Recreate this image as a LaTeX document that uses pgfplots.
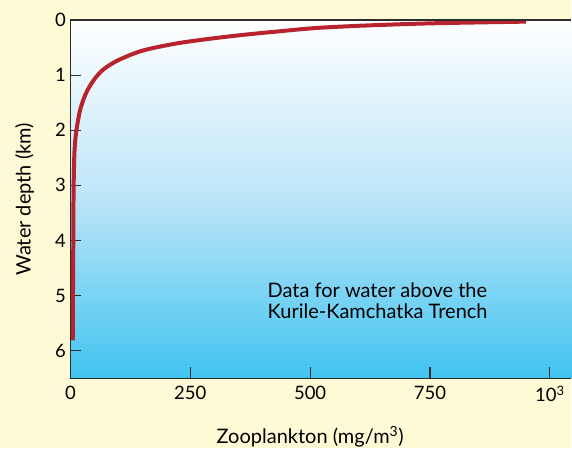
\documentclass[border=0pt]{standalone}
\usepackage{fontspec}
\setmainfont{Lato}
\usepackage{pgfplots}
\pgfplotsset{compat=1.18}
\definecolor{cream}{RGB}{255,250,214}
\definecolor{seatop}{RGB}{255,255,255}
\definecolor{seamid}{RGB}{188,229,248}
\definecolor{seabot}{RGB}{64,196,240}
\definecolor{curvec}{RGB}{185,35,45}
\definecolor{axc}{RGB}{45,45,45}
\begin{document}
\begin{tikzpicture}[x=1pt,y=1pt]
\fill[cream] (-70.5,-70) rectangle (501.5,378.7);
\begin{axis}[at={(0,0)}, anchor=south west, scale only axis,
  width=501.5pt, height=358.7pt,
  xmin=0, xmax=1045, ymin=0, ymax=6.5, y dir=reverse,
  axis line style={draw=none},
  axis background/.style={shade, top color=seatop, bottom color=seabot, middle color=seamid},
  xtick={0,250,500,750,1000},
  xticklabels={0,250,500,750,{10\textsuperscript{3}}},
  ytick={0,1,2,3,4,5,6},
  xtick pos=bottom, ytick pos=left,
  tick align=inside,
  major tick length=11pt,
  tick style={axc, line width=1.2pt},
  ticklabel style={font=\fontsize{18.5}{22}\selectfont},
  /pgf/number format/assume math mode=true,
  yticklabel style={xshift=-1pt},
  xticklabel style={yshift=-4pt},
  label style={font=\fontsize{20}{24}\selectfont},
  xlabel={Zooplankton (mg/m\textsuperscript{3})},
  ylabel={Water depth (km)},
  xlabel style={at={(axis description cs:0.4785,0)}, anchor=base, yshift=-65.3pt},
  ylabel style={at={(axis description cs:0,0.5)}, anchor=center, yshift=46pt},
  clip=false,
]
\addplot[curvec, line width=4pt, smooth] coordinates {
(950,0.03) (756,0.06) (617,0.10) (513,0.145) (430,0.21) (360,0.27)
(291,0.34) (225,0.42) (164,0.525) (130,0.616) (95,0.75)
(70,0.888) (53,1.04) (39,1.22) (29,1.40) (20,1.64) (13.5,1.945)
(10,2.19) (8,2.49) (6.6,3.09) (6,4) (5.3,5) (5,5.81)
};
\draw[axc, line width=1.2pt] (rel axis cs:1,1) -- (rel axis cs:0,1) -- (rel axis cs:0,0) -- (rel axis cs:1,0);
\node[anchor=base west, font=\fontsize{20}{24}\selectfont, inner sep=0pt] at (axis cs:411,5.026) {Data for water above the};
\node[anchor=base west, font=\fontsize{20}{24}\selectfont, inner sep=0pt] at (axis cs:411,5.406) {Kurile-Kamchatka Trench};
\end{axis}
\end{tikzpicture}
\end{document}
